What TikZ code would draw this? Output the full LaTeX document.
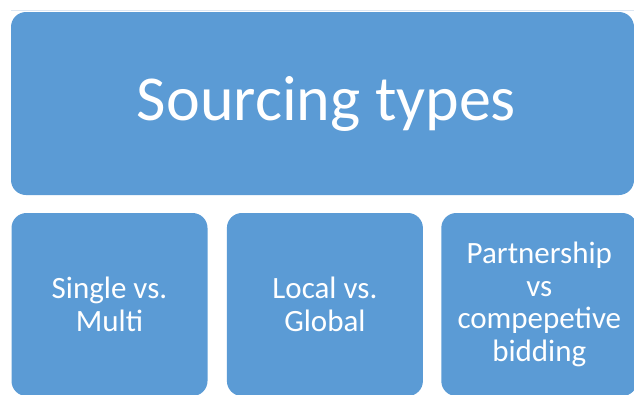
\documentclass[tikz,border=0pt]{standalone}
\usepackage{fontspec}
\setmainfont{Carlito}
\usetikzlibrary{positioning}
\definecolor{tileblue}{HTML}{5B9BD5}
\definecolor{edgegray}{HTML}{DCE6F2}
\tikzset{
	tile/.style={draw=none, fill=tileblue, rounded corners=15pt, text=white, align=center, inner sep=0pt},
	subtile/.style={tile, minimum width=196pt, minimum height=183pt, font=\fontsize{31}{32.5}\selectfont}
}

\begin{document}
\begin{tikzpicture}[x=1pt, y=-1pt]
		%%%%% START %%%%%
		\useasboundingbox (0, 0) rectangle (634, 394);
		\clip (0, 0) rectangle (634, 394);
		
		\draw[edgegray, line width=1.2pt] (11, 10.5) -- (634, 10.5);
		
		\node[tile, minimum width=623pt, minimum height=183pt, font=\fontsize{64}{70}\selectfont] (types) at (322.5, 103.5) {\hspace*{8pt}Sourcing types};
		
		\node[subtile] (single) at (109.5, 304.5) {Single vs.\\Multi};
		\node[subtile, right=19pt of single] (local) {Local vs.\\Global};
		\node[subtile, right=18pt of local] (partner) {Partnership\\vs\\compepetive\\bidding};
		%%%%% END %%%%%
	\end{tikzpicture}
\end{document}
